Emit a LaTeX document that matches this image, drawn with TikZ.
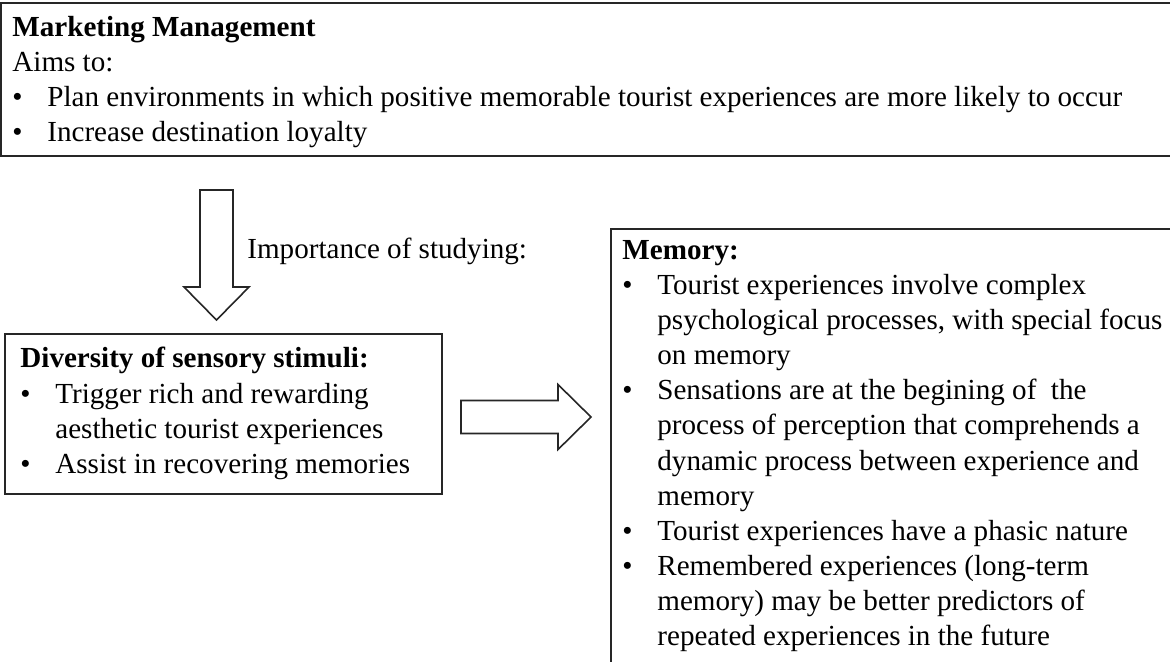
\documentclass[tikz,border=0pt]{standalone}
\usepackage{fontspec}
\setmainfont{Liberation Serif}
\usepackage{tikz}
\usepackage{xcolor}

\newcommand{\bul}{\makebox[17.5pt][l]{\textbullet}}
\newcommand{\ind}{\hspace*{17.5pt}}

\tikzset{
    box/.style={draw=black!85, line width=0.8pt},
    boxtext/.style={anchor=north west, inner sep=0pt, align=left,
                    font=\fontsize{14.55}{17.55}\selectfont},
    fatarrow/.pic={
        \draw[line width=0.8pt, black!85] (0,-16.5) -- (97,-16.5) -- (97,-32.5) -- (130,0)
            -- (97,32.5) -- (97,16.5) -- (0,16.5) -- cycle;
    }
}

\begin{document}
\begin{tikzpicture}[x=0.5pt, y=-0.5pt]
            \useasboundingbox (0,0) rectangle (1170,661);
            \clip (0,0) rectangle (1170,661);
            % boxes
            \draw[box] (1  , 3  ) rectangle (1200, 156);
            \draw[box] (5  , 334) rectangle (442 , 494);
            \draw[box] (611, 229) rectangle (1200, 700);
            % texts
            \node[boxtext] (mm) at (12, 16) {\textbf{Marketing Management}\\
                Aims to:\\
                \bul Plan environments in which positive memorable tourist experiences are more likely to occur\\
                \bul Increase destination loyalty};
            \node[boxtext] (senses) at (20, 347) {\textbf{Diversity of sensory stimuli:}\\
                \bul Trigger rich and rewarding\\
                \ind aesthetic tourist experiences\\
                \bul Assist in recovering memories};
            \node[boxtext] (memory) at (622, 240) {\textbf{Memory:}\\
                \bul Tourist experiences involve complex\\
                \ind psychological processes, with special focus\\
                \ind on memory\\
                \bul Sensations are at the begining of \ the\\
                \ind process of perception that comprehends a\\
                \ind dynamic process between experience and\\
                \ind memory\\
                \bul Tourist experiences have a phasic nature\\
                \bul Remembered experiences (long-term\\
                \ind memory) may be better predictors of\\
                \ind repeated experiences in the future};
            % arrows
            \coordinate (down)  at (216.5, 190);
            \coordinate (right) at (461  , 417);
            \pic[rotate=-90] at (down) {fatarrow};
            \pic at (right) {fatarrow};
            \node[anchor=base west, inner sep=0pt, font=\fontsize{14.55}{17.55}\selectfont]
                (study) at (247, 258) {Importance of studying:};
        \end{tikzpicture}
\end{document}
